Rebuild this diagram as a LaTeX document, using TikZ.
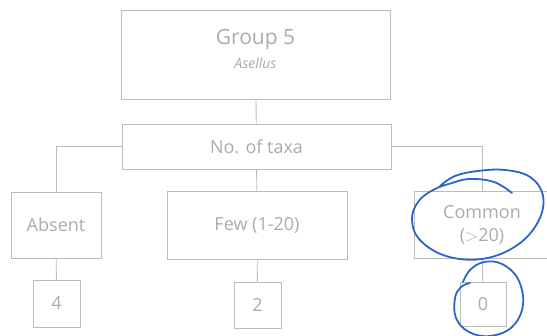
\documentclass[tikz,border=0pt]{standalone}
\usepackage{fontspec}
\setmainfont{Open Sans}

\definecolor{boxline}{HTML}{B6BEB6}
\definecolor{boxtext}{HTML}{A6AEA6}
\definecolor{pen}{HTML}{2F63CC}

\tikzset{
  keybox/.style={draw=boxline, line width=0.9pt, text=boxtext, align=center, inner sep=0pt,
    font=\fontsize{18}{23}\selectfont},
  link/.style={draw=boxline, line width=0.9pt},
  ink/.style={draw=pen, line width=1.8pt, line cap=round, line join=round}
}

\begin{document}
\begin{tikzpicture}[x=1pt,y=-1pt]
    \useasboundingbox (0,0) rectangle (547,336);

    % key boxes
    \node[keybox, minimum width=269pt, minimum height=89pt, text depth=12pt, font=\fontsize{21}{25}\selectfont] (group) at (255.5,54.5)
        {Group 5\\[-1pt]{\fontsize{14}{16}\selectfont\itshape Asellus}};
    \node[keybox, minimum width=269pt, minimum height=45pt] (taxa) at (256.5,146.5) {No. of taxa};

    \node[keybox, minimum width=90pt, minimum height=66pt] (absent) at (56,225) {Absent};
    \node[keybox, minimum width=180pt, minimum height=68pt] (few) at (257,225) {Few (1-20)};
    \node[keybox, minimum width=136pt, minimum height=67pt] (common) at (482,224.5) {Common\\($>$20)};

    \node[keybox, minimum width=47pt, minimum height=47pt] (n4) at (56.5,303.5) {4};
    \node[keybox, minimum width=47pt, minimum height=46pt] (n2) at (257.5,305) {2};
    \node[keybox, minimum width=46pt, minimum height=44pt] (n0) at (483,304) {0};

    % connectors
    \draw[link] (group) -- (taxa);
    \draw[link] (taxa.west) -| (absent.north);
    \draw[link] (taxa.east) -| (common.north);
    \draw[link] (taxa) -- (few);
    \draw[link] (absent) -- (n4);
    \draw[link] (few) -- (n2);
    \draw[link] (common) -- (n0);

    % pen marks
    \draw[ink] plot[smooth, tension=0.65] coordinates {(512,193) (494,182) (470,179) (452,183) (433,190) (418,202) (412,220) (420,240) (446,256) (482,259) (516,246) (538,222) (543,196) (530,177) (505,170) (478,171) (455,176) (440,186)};
    \draw[ink] plot[smooth, tension=0.65] coordinates {(470,283) (461,287) (455,298) (456,318) (469,332) (490,336) (512,327) (523,305) (518,279) (502,264) (484,262) (470,270) (463,282)};
\end{tikzpicture}
\end{document}
